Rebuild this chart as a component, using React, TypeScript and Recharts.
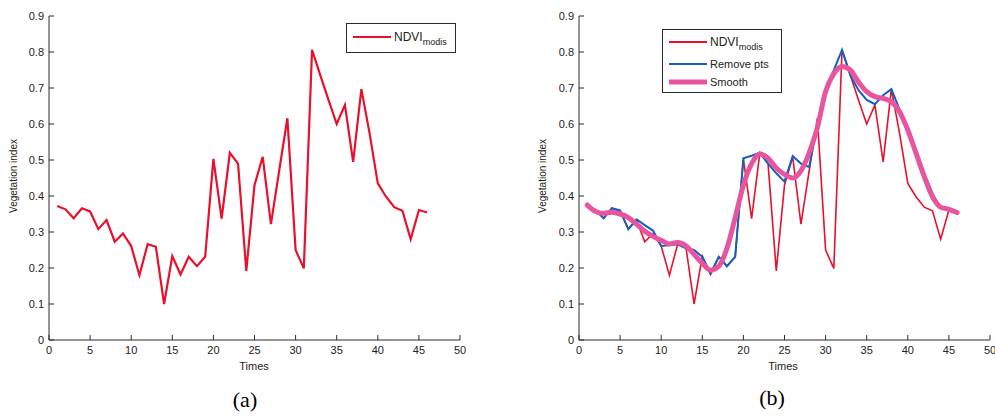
import React from 'react';
import { LineChart, Line, XAxis, YAxis } from 'recharts';

const times = [1,2,3,4,5,6,7,8,9,10,11,12,13,14,15,16,17,18,19,20,21,22,23,24,25,26,27,28,29,30,31,32,33,34,35,36,37,38,39,40,41,42,43,44,45,46];

const ndviModis = [0.372,0.363,0.338,0.366,0.357,0.308,0.333,0.273,0.296,0.261,0.18,0.266,0.259,0.10,0.233,0.182,0.231,0.205,0.231,0.503,0.337,0.52,0.49,0.192,0.43,0.509,0.322,0.47,0.616,0.25,0.199,0.806,0.736,0.667,0.60,0.653,0.495,0.697,0.574,0.435,0.398,0.369,0.359,0.28,0.361,0.354];

const removePts = [0.37,0.36,0.338,0.366,0.36,0.308,0.335,0.319,0.304,0.261,0.263,0.266,0.255,0.25,0.231,0.185,0.231,0.205,0.231,0.505,0.512,0.52,0.49,0.463,0.44,0.511,0.49,0.48,0.6,0.69,0.75,0.806,0.736,0.694,0.667,0.655,0.68,0.697,0.64,0.593,0.528,0.463,0.407,0.366,0.361,0.354];

const smooth = [0.375,0.357,0.352,0.355,0.35,0.34,0.322,0.302,0.288,0.277,0.267,0.271,0.262,0.238,0.213,0.194,0.205,0.255,0.34,0.43,0.49,0.517,0.505,0.478,0.46,0.45,0.47,0.52,0.59,0.69,0.74,0.76,0.75,0.717,0.69,0.676,0.671,0.662,0.634,0.583,0.519,0.454,0.398,0.369,0.363,0.354];

const xTicks = [0,5,10,15,20,25,30,35,40,45,50];
const yTicks = [0,0.1,0.2,0.3,0.4,0.5,0.6,0.7,0.8,0.9];

const data = times.map((t, i) => ({ t, ndvi: ndviModis[i], removed: removePts[i], smooth: smooth[i] }));

const RED = '#e8102c';
const BLUE = '#1460c0';
const PINK = '#e8559e';
const AXIS = '#2a2a2a';
const FONT = '"Liberation Sans", Arial, sans-serif';
const GAP = 5;

const YTick = (props: any) => {
  const { x, y, payload } = props;
  return (
    <g>
      <line x1={x + GAP} x2={x + GAP + 5} y1={y} y2={y} stroke={AXIS} strokeWidth={1} />
      <text x={x} y={y} dy={4} textAnchor="end" fontSize={11} fill="#222" fontFamily={FONT}>{payload.value}</text>
    </g>
  );
};

const XTick = (props: any) => {
  const { x, y, payload } = props;
  return (
    <g>
      <line x1={x} x2={x} y1={y - GAP} y2={y - GAP - 5} stroke={AXIS} strokeWidth={1} />
      <text x={x} y={y} dy={9} textAnchor="middle" fontSize={11} fill="#222" fontFamily={FONT}>{payload.value}</text>
    </g>
  );
};

const Panel = ({ showExtra }: { showExtra: boolean }) => (
  <LineChart width={showExtra ? 465 : 470} height={380} data={data} margin={{ top: 16, right: showExtra ? 5 : 10, left: 0, bottom: 0 }}>
    <XAxis dataKey="t" type="number" domain={[0, 50]} ticks={xTicks} tickSize={0} tickMargin={GAP} tick={<XTick />} tickLine={false} stroke={AXIS} height={40} interval={0} />
    <YAxis type="number" domain={[0, 0.9]} ticks={yTicks} tickSize={0} tickMargin={GAP} tick={<YTick />} tickLine={false} stroke={AXIS} width={49} interval={0} />
    <Line dataKey="ndvi" stroke={RED} strokeWidth={showExtra ? 1.6 : 2.2} dot={false} isAnimationActive={false} type="linear" />
    {showExtra && <Line dataKey="removed" stroke={BLUE} strokeWidth={2} dot={false} isAnimationActive={false} type="linear" />}
    {showExtra && <Line dataKey="smooth" stroke={PINK} strokeWidth={5} dot={false} isAnimationActive={false} type="monotone" strokeLinecap="round" />}
  </LineChart>
);

const Sw = ({ color, w }: { color: string; w: number }) => (
  <svg width={38} height={8} style={{ display: 'block' }}>
    <line x1={0} x2={38} y1={4} y2={4} stroke={color} strokeWidth={w} />
  </svg>
);

const NdviLabel = () => (
  <span style={{ fontSize: 12, fontFamily: FONT, color: '#222' }}>NDVI<sub style={{ fontSize: 9, verticalAlign: 'baseline', position: 'relative', top: 4 }}>modis</sub></span>
);

const Row = ({ color, w, children, top }: any) => (
  <div style={{ position: 'absolute', left: 6, top, display: 'flex', alignItems: 'center', height: 14 }}>
    <Sw color={color} w={w} />
    <div style={{ marginLeft: 3, whiteSpace: 'nowrap', fontSize: 11, fontFamily: FONT, color: '#222', lineHeight: '14px' }}>{children}</div>
  </div>
);

export default function App() {
  return (
    <div style={{ position: 'absolute', left: 0, top: 0, width: 995, height: 416, background: '#fff', overflow: 'hidden' }}>
      <div style={{ position: 'absolute', left: 0, top: 0 }}><Panel showExtra={false} /></div>
      <div style={{ position: 'absolute', left: 530, top: 0 }}><Panel showExtra={true} /></div>

      {/* axis titles */}
      <div style={{ position: 'absolute', left: 13, top: 176, transform: 'translate(-50%, -50%) rotate(-90deg)', fontSize: 10, fontFamily: FONT, color: '#222', whiteSpace: 'nowrap' }}>Vegetation index</div>
      <div style={{ position: 'absolute', left: 542, top: 176, transform: 'translate(-50%, -50%) rotate(-90deg)', fontSize: 10, fontFamily: FONT, color: '#222', whiteSpace: 'nowrap' }}>Vegetation index</div>
      <div style={{ position: 'absolute', left: 254, top: 366, transform: 'translate(-50%, -50%)', fontSize: 11, fontFamily: FONT, color: '#222' }}>Times</div>
      <div style={{ position: 'absolute', left: 783, top: 366, transform: 'translate(-50%, -50%)', fontSize: 11, fontFamily: FONT, color: '#222' }}>Times</div>

      {/* legend a */}
      <div style={{ position: 'absolute', left: 346, top: 23, width: 108, height: 28, border: `1px solid ${AXIS}`, background: '#fff' }}>
        <Row color={RED} w={2} top={6}><NdviLabel /></Row>
      </div>

      {/* legend b */}
      <div style={{ position: 'absolute', left: 662, top: 29, width: 118, height: 62, border: `1px solid ${AXIS}`, background: '#fff' }}>
        <Row color={RED} w={2} top={5}><NdviLabel /></Row>
        <Row color={BLUE} w={2} top={27}>Remove pts</Row>
        <Row color={PINK} w={5} top={45}>Smooth</Row>
      </div>

      {/* panel captions */}
      <div style={{ position: 'absolute', left: 245, top: 400, transform: 'translate(-50%, -50%)', fontSize: 22, fontFamily: '"Liberation Serif", "Times New Roman", serif', color: '#000' }}>(a)</div>
      <div style={{ position: 'absolute', left: 772, top: 398, transform: 'translate(-50%, -50%)', fontSize: 22, fontFamily: '"Liberation Serif", "Times New Roman", serif', color: '#000' }}>(b)</div>
    </div>
  );
}
